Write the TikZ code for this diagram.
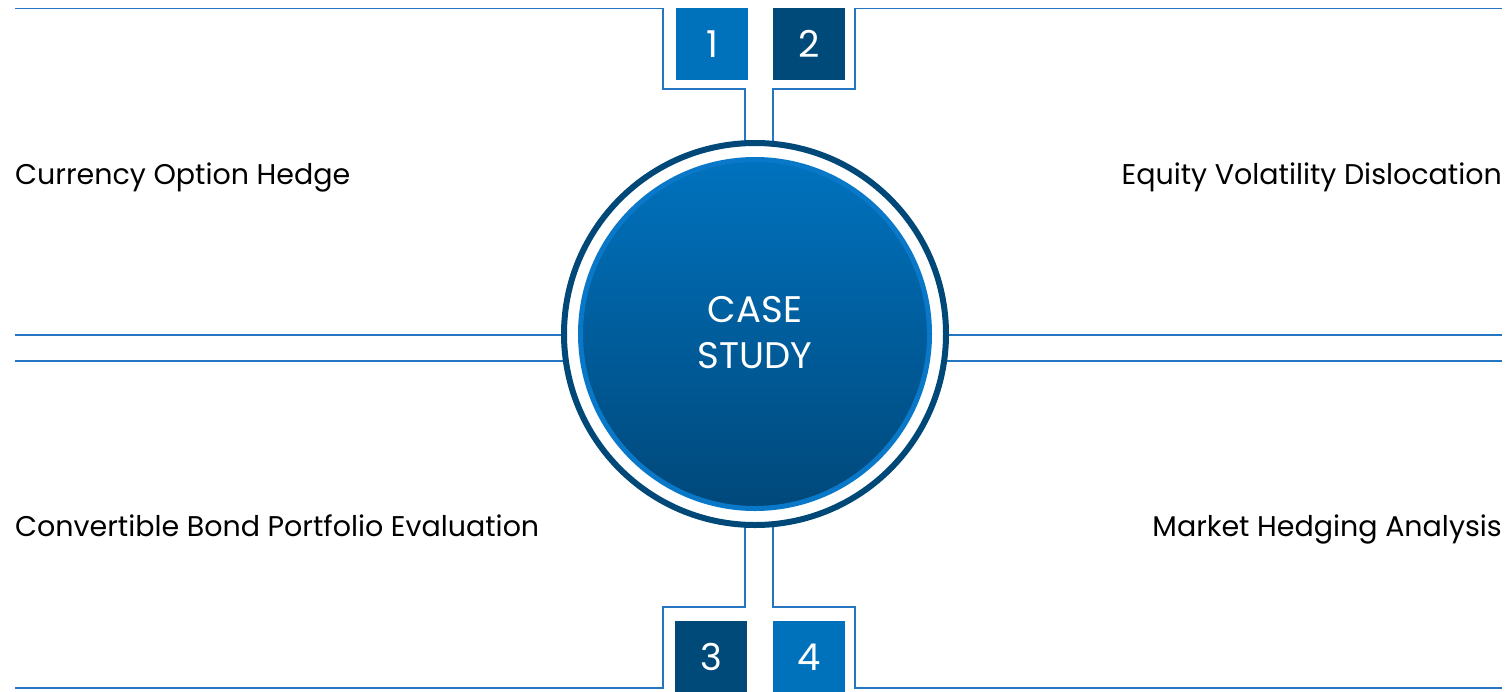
\documentclass[tikz,border=0pt]{standalone}
\usepackage{fontspec}
\setmainfont{Poppins}
\usetikzlibrary{calc}
\definecolor{boxlight}{RGB}{0,114,188}
\definecolor{boxdark}{RGB}{0,74,122}
\definecolor{linec}{RGB}{36,118,192}
\definecolor{ringc}{RGB}{0,72,120}
\definecolor{rimc}{RGB}{10,120,200}
\definecolor{gtop}{RGB}{0,114,190}
\definecolor{gbot}{RGB}{0,72,122}
\tikzset{
  numbox/.style={minimum size=72pt, inner sep=0pt, text=white, font=\fontsize{37}{37}\selectfont},
  conn/.style={draw=linec, line width=1.3pt},
  label/.style={inner sep=0pt, font=\fontsize{28.5}{28.5}\selectfont, text=black},
}
\begin{document}
\begin{tikzpicture}[x=1pt, y=-1pt]
\useasboundingbox (0,0) rectangle (1511,691);
\coordinate (c) at (755,334);
% connector end points
\coordinate (tl0) at (15,8.5);
\coordinate (tr0) at (1502,8.5);
\coordinate (bl0) at (15,688);
\coordinate (br0) at (1502,688);
\coordinate (ml1) at (15,335);
\coordinate (ml2) at (15,361);
\coordinate (mr1) at (1502,335);
\coordinate (mr2) at (1502,361);
\coordinate (ctl) at (745,146);
\coordinate (ctr) at (773,146);
\coordinate (cbl) at (745,522);
\coordinate (cbr) at (773,522);
\coordinate (cml1) at (566,335);
\coordinate (cml2) at (567,361);
\coordinate (cmr1) at (944,335);
\coordinate (cmr2) at (943,361);
\path[conn] (tl0) -| (663,89) -| (ctl);
\path[conn] (tr0) -| (855,89) -| (ctr);
\path[conn] (bl0) -| (663,607) -| (cbl);
\path[conn] (br0) -| (855,607) -| (cbr);
\path[conn] (ml1) -- (cml1);
\path[conn] (ml2) -- (cml2);
\path[conn] (mr1) -- (cmr1);
\path[conn] (mr2) -- (cmr2);
% ring and core
\node[circle, draw=ringc, line width=6pt, minimum size=382pt, inner sep=0pt] (ring) at (c) {};
\node[circle, top color=gtop, bottom color=gbot, draw=rimc, line width=5pt, minimum size=349pt, inner sep=0pt] (core) at (c) {};
\node[text=white, align=center, font=\fontsize{37}{46}\selectfont] (title) at (755,333) {CASE\\STUDY};
% number boxes
\node[numbox, fill=boxlight] (b1) at (712,44) {1};
\node[numbox, fill=boxdark] (b2) at (809,44) {2};
\node[numbox, fill=boxdark] (b3) at (711,657) {3};
\node[numbox, fill=boxlight] (b4) at (809,657) {4};
% labels
\node[label, anchor=base west] (l1) at (15,184) {Currency Option Hedge};
\node[label, anchor=base east] (l2) at (1502,184) {Equity Volatility Dislocation};
\node[label, anchor=base west] (l3) at (15,536) {Convertible Bond Portfolio Evaluation};
\node[label, anchor=base east] (l4) at (1502,536) {Market Hedging Analysis};
\end{tikzpicture}
\end{document}
